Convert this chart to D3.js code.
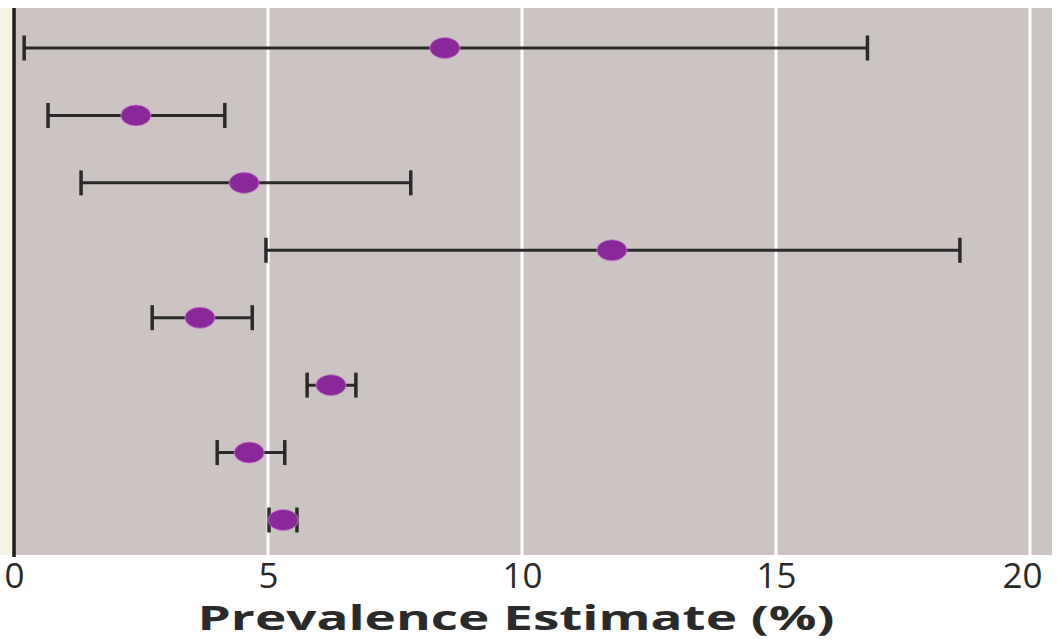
<!DOCTYPE html>
<html>
<head>
<meta charset="utf-8">
<script src="https://cdn.jsdelivr.net/npm/d3@7/dist/d3.min.js"></script>
<style>
  html, body { margin: 0; padding: 0; background: #ffffff; }
  svg { display: block; }
</style>
</head>
<body>
<svg id="chart" width="1057" height="640"></svg>
<script>
// Prevalence estimates (%) with lower / upper confidence bounds, one row per study
const rows = [1, 2, 3, 4, 5, 6, 7, 8];
const estimate = [8.48, 2.40, 4.53, 11.77, 3.66, 6.24, 4.63, 5.30];
const lower    = [0.20, 0.67, 1.32, 4.96, 2.72, 5.77, 4.00, 5.02];
const upper    = [16.80, 4.15, 7.81, 18.62, 4.69, 6.73, 5.33, 5.57];
const xTicks = [0, 5, 10, 15, 20];
const xTitle = "Prevalence Estimate (%)";

const data = rows.map((r, i) => ({ row: r, est: estimate[i], lo: lower[i], hi: upper[i] }));

const svg = d3.select("#chart");
const plot = { left: 14, right: 1030, top: 8, bottom: 555 };

const x = d3.scaleLinear().domain([0, 20]).range([plot.left, plot.right]);
const y = d3.scalePoint().domain(rows).range([48, 520]);

// panel background
svg.append("rect")
  .attr("x", plot.left).attr("y", plot.top)
  .attr("width", 1052 - plot.left).attr("height", plot.bottom - plot.top)
  .attr("fill", "#ccc4c2");

// pale strip left of the axis
svg.append("rect")
  .attr("x", 0).attr("y", plot.top)
  .attr("width", plot.left - 2).attr("height", plot.bottom - plot.top)
  .attr("fill", "#f7f3e3");

// vertical gridlines
svg.append("g").selectAll("line")
  .data(xTicks.filter(t => t > 0))
  .join("line")
  .attr("x1", d => x(d)).attr("x2", d => x(d))
  .attr("y1", plot.top).attr("y2", plot.bottom)
  .attr("stroke", "#ffffff").attr("stroke-width", 3);

// y axis line at zero
svg.append("line")
  .attr("x1", x(0)).attr("x2", x(0))
  .attr("y1", plot.top).attr("y2", plot.bottom + 2)
  .attr("stroke", "#1c1c1c").attr("stroke-width", 3.5);

// error bars
const bars = svg.append("g").selectAll("g").data(data).join("g");
bars.append("line")
  .attr("x1", d => x(d.lo)).attr("x2", d => x(d.hi))
  .attr("y1", d => y(d.row)).attr("y2", d => y(d.row))
  .attr("stroke", "#2a2a2a").attr("stroke-width", 3);
bars.selectAll("line.cap")
  .data(d => [{ v: d.lo, r: d.row }, { v: d.hi, r: d.row }])
  .join("line")
  .attr("class", "cap")
  .attr("x1", d => x(d.v)).attr("x2", d => x(d.v))
  .attr("y1", d => y(d.r) - 12.5).attr("y2", d => y(d.r) + 12.5)
  .attr("stroke", "#2a2a2a").attr("stroke-width", 3.5);

// point estimates
svg.append("g").selectAll("ellipse").data(data).join("ellipse")
  .attr("cx", d => x(d.est)).attr("cy", d => y(d.row))
  .attr("rx", 15).attr("ry", 10.5)
  .attr("fill", "#8a289a")
  .attr("stroke", "#c77fcf").attr("stroke-width", 0.8);

// x axis tick labels
const xAxis = d3.axisBottom(x).tickValues(xTicks).tickSize(0).tickPadding(0)
  .tickFormat(d3.format("d"));
const gx = svg.append("g").attr("transform", `translate(0,${plot.bottom})`).call(xAxis);
gx.select(".domain").remove();
gx.selectAll("text")
  .attr("y", 33).attr("dy", 0)
  .attr("font-family", "'Open Sans', 'Noto Sans', sans-serif")
  .attr("font-size", 35)
  .attr("fill", "#2a2a2a")
  .attr("dx", d => d === 20 ? -8 : 0);

// axis title
svg.append("text")
  .attr("x", 516).attr("y", 630)
  .attr("text-anchor", "middle")
  .attr("font-family", "'Open Sans', 'Noto Sans', sans-serif")
  .attr("font-weight", "bold")
  .attr("font-size", 34)
  .attr("fill", "#2a2a2a")
  .attr("textLength", 637)
  .attr("lengthAdjust", "spacingAndGlyphs")
  .text(xTitle);
</script>
</body>
</html>
